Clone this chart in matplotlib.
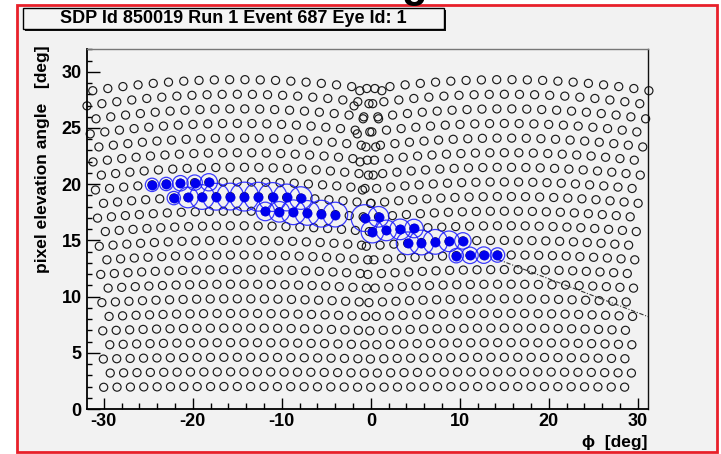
import numpy as np
import matplotlib
matplotlib.use("Agg")
import matplotlib.pyplot as plt
from matplotlib.patches import Rectangle
from matplotlib.ticker import MultipleLocator

plt.rcParams["font.family"] = ["Liberation Sans", "DejaVu Sans"]
plt.rcParams["axes.unicode_minus"] = False

# ---------------- data ----------------
title = "SDP Id 850019 Run 1 Event 687 Eye Id: 1"
camera_phi = [-15.0, 15.0]                       # camera axis azimuths [deg]
row_elev = [2.0, 3.3, 4.6, 5.9, 7.2, 8.5, 9.8, 11.1, 12.4, 13.7, 15.0,
            16.3, 17.6, 18.9, 20.2, 21.5, 22.8, 24.1, 25.4, 26.7, 28.0, 29.3]
col_even = [-15.0, -13.5, -12.0, -10.5, -9.0, -7.5, -6.0, -4.5, -3.0, -1.5,
            0.0, 1.5, 3.0, 4.5, 6.0, 7.5, 9.0, 10.5, 12.0, 13.5]
col_odd = [-14.25, -12.75, -11.25, -9.75, -8.25, -6.75, -5.25, -3.75, -2.25, -0.75,
           0.75, 2.25, 3.75, 5.25, 6.75, 8.25, 9.75, 11.25, 12.75, 14.25]

# triggered pixels: camera, row, column, signal
event_cam = [0, 0, 0, 0, 0,
             0, 0, 0, 0, 0, 0, 0, 0, 0, 0,
             0, 0, 0, 0, 0, 0,
             1, 1,
             1, 1, 1, 1,
             1, 1, 1, 1, 1,
             1, 1, 1, 1]
event_row = [14, 14, 14, 14, 14,
             13, 13, 13, 13, 13, 13, 13, 13, 13, 13,
             12, 12, 12, 12, 12, 12,
             12, 12,
             11, 11, 11, 11,
             10, 10, 10, 10, 10,
             9, 9, 9, 9]
event_col = [4, 5, 6, 7, 8,
             5, 6, 7, 8, 9, 10, 11, 12, 13, 14,
             12, 13, 14, 15, 16, 17,
             0, 1,
             0, 1, 2, 3,
             3, 4, 5, 6, 7,
             6, 7, 8, 9]
event_signal = [42, 42, 56, 56, 70,
                42, 100, 144, 169, 169, 196, 196, 196, 169, 121,
                81, 100, 144, 144, 169, 144,
                169, 100,
                121, 100, 100, 81,
                121, 144, 144, 100, 64,
                49, 64, 64, 49]

track_phi = [14.3, 31.2]
track_elev = [13.3, 8.2]

x_ticks = [-30, -20, -10, 0, 10, 20, 30]
y_ticks = [0, 5, 10, 15, 20, 25, 30]


def pixel_dir(cam, row, col):
    e0 = np.radians(row_elev[row])
    s = np.radians((col_even if row % 2 == 0 else col_odd)[col])
    phi = camera_phi[cam] + np.degrees(np.arctan(np.tan(s) / np.cos(e0)))
    elev = np.degrees(np.arcsin(np.sin(e0) * np.cos(s)))
    return phi, elev


# all camera pixels
gp, ge = [], []
for cam in range(len(camera_phi)):
    for r in range(len(row_elev)):
        ncol = len(col_even) if r % 2 == 0 else len(col_odd)
        for c in range(ncol):
            p, e = pixel_dir(cam, r, c)
            gp.append(p)
            ge.append(e)

ep, ee = [], []
for cam, r, c in zip(event_cam, event_row, event_col):
    p, e = pixel_dir(cam, r, c)
    ep.append(p)
    ee.append(e)

# ---------------- figure ----------------
W, H = 721, 454
fig = plt.figure(figsize=(W / 100, H / 100), dpi=100, facecolor="white")


def fx(px):
    return px / W


def fy(py):
    return 1 - py / H


# canvas area with red border
fig.patches.append(Rectangle((fx(17), fy(452)), fx(717) - fx(17), fy(5) - fy(452),
                             transform=fig.transFigure, facecolor="#f2f2f2",
                             edgecolor="#e8202a", lw=2, zorder=-10))

ax = fig.add_axes([fx(87.3), fy(409), fx(648.3) - fx(87.3), fy(49.3) - fy(409)])
ax.set_zorder(1)
ax.set_facecolor("#f2f2f2")
ax.set_xlim(-31.85, 31.17)
ax.set_ylim(0, 32)

ax.scatter(gp, ge, s=34, facecolors="none", edgecolors="#1a1a1a", linewidths=0.85,
           clip_on=False, zorder=2)
ax.plot(track_phi, track_elev, color="#333333", lw=0.8, ls=(0, (4, 1.5, 1, 1.5)),
        zorder=2, clip_on=False)
ax.scatter(ep, ee, s=[2.2 * v for v in event_signal], facecolors="none",
           edgecolors="#1a1aff", linewidths=0.9, alpha=0.85, zorder=3)
ax.scatter(ep, ee, s=44, color="#0000ee", edgecolors="#0000ee", linewidths=0.5, zorder=4)

ax.set_xticks(x_ticks)
ax.set_yticks(y_ticks)
ax.xaxis.set_minor_locator(MultipleLocator(2))
ax.yaxis.set_minor_locator(MultipleLocator(1))
ax.tick_params(axis="both", which="both", direction="in", top=False, right=False,
               width=1.0, colors="black")
ax.tick_params(axis="x", which="major", length=8, pad=3)
ax.tick_params(axis="x", which="minor", length=4)
ax.tick_params(axis="y", which="major", length=9.5, pad=4)
ax.tick_params(axis="y", which="minor", length=3.8)
for lab in ax.get_xticklabels() + ax.get_yticklabels():
    lab.set_fontweight("bold")
    lab.set_fontsize(13)

for side in ["left", "bottom"]:
    ax.spines[side].set_color("black")
    ax.spines[side].set_linewidth(1.3)
ax.spines["top"].set_color("#777777")
ax.spines["top"].set_linewidth(1.0)
ax.spines["right"].set_color("#111111")
ax.spines["right"].set_linewidth(1.0)

fig.text(fx(43), fy(45), "pixel elevation angle   [deg]", rotation=90, ha="center",
         va="top", fontsize=12.5, fontweight="bold")
fig.text(fx(648), fy(442), "\u03d5  [deg]", ha="right", va="center", fontsize=12.5,
         fontweight="bold")

# title box with shadow
fig.patches.append(Rectangle((fx(25), fy(31)), fx(446) - fx(25), fy(10) - fy(31),
                             transform=fig.transFigure, facecolor="#111111",
                             edgecolor="none", zorder=1))
fig.patches.append(Rectangle((fx(23), fy(29)), fx(444) - fx(23), fy(8) - fy(29),
                             transform=fig.transFigure, facecolor="#f4f4f4",
                             edgecolor="black", lw=1, zorder=2))
fig.text(fx(233.5), fy(18.5), title, ha="center", va="center", fontsize=13,
         fontweight="bold", zorder=3)

# clipped glyph of the page heading above the canvas
fig.text(fx(414), fy(-3.3), "g", ha="center", va="baseline", fontsize=30,
         fontweight="bold", zorder=3)

fig.savefig("out.png", dpi=100, facecolor="white")
